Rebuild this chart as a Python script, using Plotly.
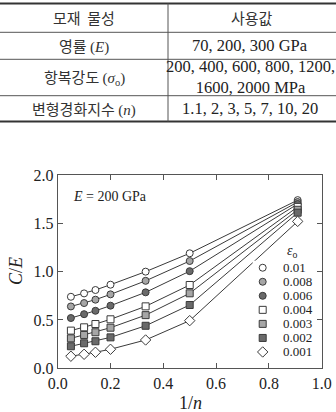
import plotly.graph_objects as go

W, H = 336, 412

SERIF = "Liberation Serif, Times New Roman, serif"
KR = "Noto Sans CJK KR, Liberation Serif, serif"

def sf(t):
    return '<span style="font-family:Liberation Serif">' + t + '</span>'

# ---- table data ----
table_header = ["모재  물성", "사용값"]
table_props = ["영률 " + sf("(<i>E</i>)"),
               "항복강도 " + sf("(<i>σ</i><sub>o</sub>)"),
               "변형경화지수 " + sf("(<i>n</i>)")]
table_values = ["70, 200, 300 GPa", "200, 400, 600, 800, 1200,<br>1600, 2000 MPa", "1.1, 2, 3, 5, 7, 10, 20"]

# ---- chart data ----
inv_n = [0.05, 0.1, 0.143, 0.2, 0.333, 0.5, 0.909]
strain_labels = ["0.01", "0.008", "0.006", "0.004", "0.003", "0.002", "0.001"]
ce_values = [
    [0.74, 0.775, 0.81, 0.865, 1.0, 1.19, 1.74],
    [0.64, 0.675, 0.71, 0.765, 0.905, 1.11, 1.72],
    [0.52, 0.56, 0.595, 0.648, 0.786, 1.005, 1.70],
    [0.39, 0.424, 0.458, 0.507, 0.641, 0.862, 1.67],
    [0.31, 0.345, 0.373, 0.42, 0.55, 0.776, 1.64],
    [0.228, 0.259, 0.28, 0.32, 0.44, 0.655, 1.61],
    [0.125, 0.145, 0.166, 0.197, 0.293, 0.493, 1.52],
]
marker_symbols = ["circle", "circle", "circle", "square", "square", "square", "diamond"]
marker_fills = ["#ffffff", "#a6a6a6", "#6a6a6a", "#ffffff", "#a6a6a6", "#6a6a6a", "#ffffff"]


def px(x):
    return x / W

def py(y):
    return 1 - y / H

fig = go.Figure()

for lab, vals, sym, fill in zip(strain_labels, ce_values, marker_symbols, marker_fills):
    fig.add_trace(go.Scatter(
        x=inv_n, y=vals, mode="lines+markers", name=lab,
        line=dict(color="#3a3a3a", width=1),
        marker=dict(symbol=sym, size=7 if sym != "diamond" else 8, color=fill,
                    line=dict(color="#3a3a3a", width=1)),
        showlegend=False, cliponaxis=False,
    ))

# manual legend (compact row spacing)
n_s = len(strain_labels)
for i, (lab, sym, fill) in enumerate(zip(strain_labels, marker_symbols, marker_fills)):
    fig.add_trace(go.Scatter(
        x=[0], y=[n_s - 1 - i], mode="markers", xaxis="x2", yaxis="y2",
        marker=dict(symbol=sym, size=7 if sym != "diamond" else 8, color=fill,
                    line=dict(color="#3a3a3a", width=1)),
        showlegend=False, cliponaxis=False, hoverinfo="skip",
    ))

annotations = []
for i, lab in enumerate(strain_labels):
    annotations.append(dict(x=px(281), y=n_s - 1 - i, xref="paper", yref="y2",
                            text=lab, showarrow=False, xanchor="left", yanchor="middle",
                            font=dict(family=SERIF, size=13, color="#222")))
annotations.append(dict(x=px(292), y=py(252), xref="paper", yref="paper",
                        text="<i>ε</i><sub>o</sub>", showarrow=False,
                        xanchor="center", yanchor="middle",
                        font=dict(family=SERIF, size=14, color="#222")))
annotations.append(dict(x=px(71), y=py(196), xref="paper", yref="paper",
                        text="<i>E</i> = 200 GPa", showarrow=False,
                        xanchor="left", yanchor="middle",
                        font=dict(family=SERIF, size=14, color="#222")))
annotations.append(dict(x=px(16), y=py(271), xref="paper", yref="paper",
                        text="<i>C</i>/<i>E</i>", showarrow=False, textangle=-90,
                        xanchor="center", yanchor="middle",
                        font=dict(family=SERIF, size=18, color="#222")))
annotations.append(dict(x=px(190), y=py(403), xref="paper", yref="paper",
                        text="1/<i>n</i>", showarrow=False,
                        xanchor="center", yanchor="middle",
                        font=dict(family=SERIF, size=18, color="#222")))

# ---- table ----
row_lines = [3.5, 32.3, 59.3, 95.7, 121.5]
shapes = []
for j, yl in enumerate(row_lines):
    thick = j in (0, len(row_lines) - 1)
    shapes.append(dict(type="line", xref="paper", yref="paper",
                       x0=0, x1=1, y0=py(yl), y1=py(yl),
                       line=dict(color="#333" if thick else "#555", width=2 if thick else 1)))
shapes.append(dict(type="line", xref="paper", yref="paper",
                   x0=px(168), x1=px(168), y0=py(row_lines[0]), y1=py(row_lines[-1]),
                   line=dict(color="#555", width=1)))

col_c = [px(84), px(250)]
row_c = [(row_lines[k] + row_lines[k + 1]) / 2 for k in range(4)]
for c, t in zip([px(84), px(252)], table_header):
    annotations.append(dict(x=c, y=py(row_c[0]), xref="paper", yref="paper", text=t,
                            showarrow=False, xanchor="center", yanchor="middle",
                            font=dict(family=KR, size=15, color="#333")))
for k, (p, v) in enumerate(zip(table_props, table_values)):
    annotations.append(dict(x=col_c[0], y=py(row_c[k + 1]), xref="paper", yref="paper", text=p,
                            showarrow=False, xanchor="center", yanchor="middle",
                            font=dict(family=KR, size=15, color="#333")))
    annotations.append(dict(x=col_c[1], y=py(row_c[k + 1]), xref="paper", yref="paper", text=v,
                            showarrow=False, xanchor="center", yanchor="middle",
                            font=dict(family=SERIF, size=16.5, color="#222")))

axis_common = dict(showgrid=False, zeroline=False, showline=True, linecolor="#555",
                   linewidth=1, mirror="ticks", ticks="inside", ticklen=5,
                   tickcolor="#555", tickfont=dict(family=SERIF, size=16, color="#222"))

fig.update_layout(
    width=W, height=H, margin=dict(l=0, r=0, t=0, b=0),
    paper_bgcolor="white", plot_bgcolor="white",
    xaxis=dict(domain=[px(57.7), px(321.7)], range=[0, 1], tickvals=[0, 0.2, 0.4, 0.6, 0.8, 1.0],
               ticktext=["0.0", "0.2", "0.4", "0.6", "0.8", "1.0"], automargin=False, **axis_common),
    yaxis=dict(domain=[py(368.3), py(175)], range=[0, 2], tickvals=[0, 0.5, 1.0, 1.5, 2.0],
               ticktext=["0.0", "0.5", "1.0", "1.5", "2.0"], automargin=False, **axis_common),
    xaxis2=dict(domain=[px(252.7), px(272.7)], range=[-1, 1], anchor="y2", visible=False),
    yaxis2=dict(domain=[py(359), py(260.7)], range=[-0.5, n_s - 0.5], anchor="x2", visible=False),
    shapes=shapes, annotations=annotations, showlegend=False,
)

fig.write_html("out.html")
